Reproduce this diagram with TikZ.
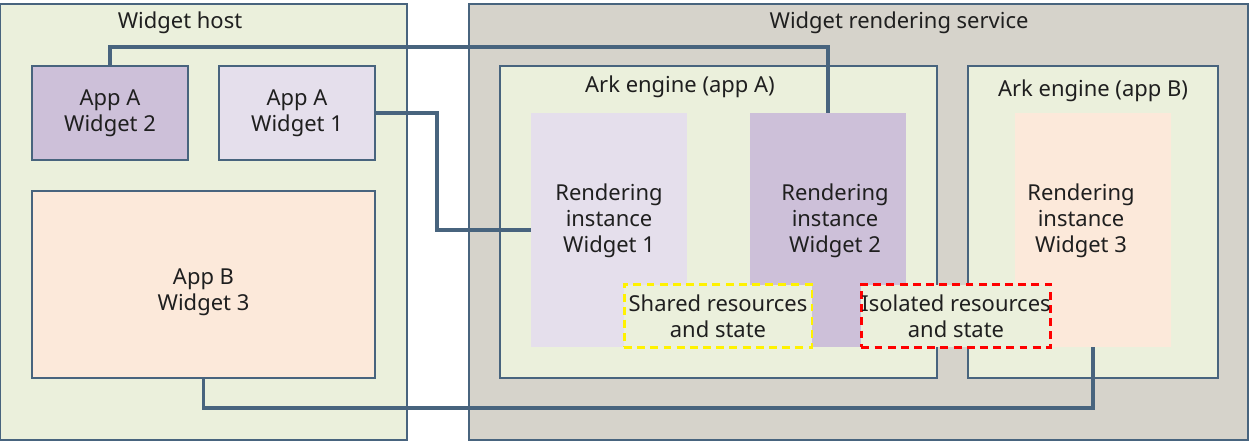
\documentclass[tikz,border=0pt]{standalone}
\usepackage{fontspec}
\setmainfont{Noto Sans}
\usetikzlibrary{positioning}
\definecolor{PaleGreen}{RGB}{235,240,220}
\definecolor{StoneGray}{RGB}{214,211,203}
\definecolor{DeepLilac}{RGB}{205,192,217}
\definecolor{SoftLilac}{RGB}{229,223,236}
\definecolor{PeachCream}{RGB}{252,233,218}
\definecolor{EdgeSlate}{RGB}{72,100,126}
\definecolor{InkGray}{RGB}{31,31,31}

\begin{document}
\begin{tikzpicture}[x=0.02cm, y=-0.02cm,
		% frames with a thin slate border
		frameBox/.style={
			draw=EdgeSlate,
			line width=0.9pt,
			inner sep=0pt,
			outer sep=0pt,
			align=center,
			text=InkGray,
			font=\fontsize{12.5}{14.8}\selectfont
		},
		% rendering instances: no border
		instBox/.style={
			inner sep=0pt,
			outer sep=0pt,
			minimum width=3.12cm,
			minimum height=4.68cm
		},
		% resource boxes with dashes
		resBox/.style={
			line width=1.7pt,
			dash pattern=on 4.5pt off 3pt,
			fill=PaleGreen,
			inner sep=0pt,
			minimum width=3.76cm,
			minimum height=1.26cm,
			align=center,
			text=InkGray,
			font=\fontsize{12.5}{14.8}\selectfont
		},
		txt/.style={align=center, text=InkGray, font=\fontsize{12.5}{14.8}\selectfont},
		link/.style={draw=EdgeSlate, line width=1.8pt}
		]
		\useasboundingbox (0,0) rectangle (1250,442);
		
		% the two big areas
		\node[frameBox, fill=PaleGreen, minimum width=8.14cm, minimum height=8.72cm] (host) at (203.5,222) {};
		\node[frameBox, fill=StoneGray, minimum width=15.58cm, minimum height=8.72cm] (service) at (858.5,222) {};
		\node[txt] (hostTitle) at (180,23) {Widget host};
		\node[txt] (serviceTitle) at (899,23) {Widget rendering service};
		
		% widgets in the host
		\node[frameBox, fill=DeepLilac, minimum width=3.12cm, minimum height=1.88cm] (wTwo) at (110,113) {App A\\Widget 2};
		\node[frameBox, fill=SoftLilac, minimum width=3.12cm, minimum height=1.88cm] (wOne) at (297,113) {App A\\Widget 1};
		\node[frameBox, fill=PeachCream, minimum width=6.86cm, minimum height=3.74cm] (wThree) at (203.5,284.5) {};
		\node[txt] (wThreeText) at (203.5,292) {App B\\Widget 3};
		
		% engines
		\node[frameBox, fill=PaleGreen, minimum width=8.74cm, minimum height=6.24cm] (arkA) at (718.5,222) {};
		\node[frameBox, fill=PaleGreen, minimum width=5cm, minimum height=6.24cm] (arkB) at (1093,222) {};
		\node[txt] (arkATitle) at (680,87) {Ark engine (app A)};
		\node[txt] (arkBTitle) at (1093,91) {Ark engine (app B)};
		
		% rendering instances
		\node[instBox, fill=SoftLilac] (instOne) at (609,230) {};
		\node[instBox, fill=DeepLilac] (instTwo) at (828,230) {};
		\node[instBox, fill=PeachCream] (instThree) at (1093,230) {};
		\node[txt] (instOneText) at (609,221) {Rendering\\instance\\Widget 1};
		\node[txt] (instTwoText) at (835,221) {Rendering\\instance\\Widget 2};
		\node[txt] (instThreeText) at (1081,221) {Rendering\\instance\\Widget 3};
		
		% resources
		\node[resBox, draw=yellow] (shared) at (718,316) {Shared resources\\and state};
		\node[resBox, draw=red] (isolated) at (956,316) {Isolated resources\\and state};
		
		% connectors
		\draw[link] (wTwo.north) -- ++(0,-19) -| (instTwo.north);
		\draw[link] (wOne.east) -- ++(62,0) |- (instOne.west);
		\draw[link] (wThree.south) -- ++(0,30) -| (instThree.south);
		
	\end{tikzpicture}
\end{document}
